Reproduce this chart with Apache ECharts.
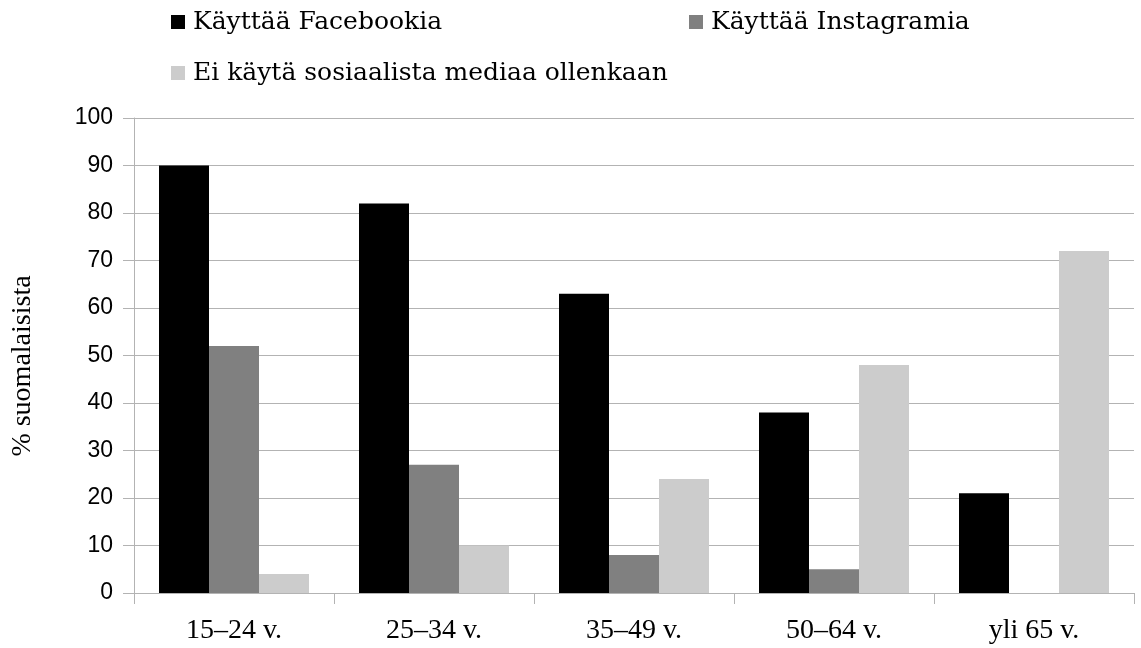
<!DOCTYPE html>
<html>
<head>
<meta charset="utf-8">
<script src="https://cdn.jsdelivr.net/npm/echarts@6/dist/echarts.min.js"></script>
<style>
  html, body { margin: 0; padding: 0; background: #fff; }
  #main { width: 1141px; height: 648px; }
</style>
</head>
<body>
<div id="main"></div>
<script>
var categories = ['15–24 v.', '25–34 v.', '35–49 v.', '50–64 v.', 'yli 65 v.'];
var seriesNames = ['Käyttää Facebookia', 'Käyttää Instagramia', 'Ei käytä sosiaalista mediaa ollenkaan'];
var facebook = [90, 82, 63, 38, 21];
var instagram = [52, 27, 8, 5, 0];
var eiKayta = [4, 10, 24, 48, 72];
var yTicks = [0, 10, 20, 30, 40, 50, 60, 70, 80, 90, 100];

var serif = '"Liberation Serif", "DejaVu Serif", serif';
var legendFont = '"DejaVu Serif", "Liberation Serif", serif';
var sans = '"Liberation Sans", Arial, sans-serif';
var lineColor = '#b3b3b3';

var myChart = echarts.init(document.getElementById('main'));

// one legend per item so they sit where the original put them
function legendAt(name, left, top) {
    return {
        data: [name],
        left: left,
        top: top,
        padding: 0,
        icon: 'rect',
        itemWidth: 14,
        itemHeight: 14,
        textStyle: { fontFamily: legendFont, fontSize: 25, lineHeight: 30, color: '#000', padding: [0, 0, 0, 3] }
    };
}

var option = {
    animation: false,
    color: ['#000000', '#808080', '#cccccc'],
    legend: [
        legendAt(seriesNames[0], 171, 7),
        legendAt(seriesNames[1], 689, 7),
        legendAt(seriesNames[2], 171, 58)
    ],
    grid: { left: 134, right: 7, top: 118, bottom: 55, containLabel: false },
    xAxis: {
        type: 'category',
        data: categories,
        axisLine: { lineStyle: { color: lineColor } },
        axisTick: { show: true, length: 11, lineStyle: { color: lineColor } },
        axisLabel: { fontFamily: serif, fontSize: 28, color: '#000', margin: 24 }
    },
    yAxis: {
        type: 'value',
        min: yTicks[0],
        max: yTicks[yTicks.length - 1],
        interval: 10,
        name: '% suomalaisista',
        nameLocation: 'middle',
        nameGap: 97,
        nameTextStyle: { fontFamily: serif, fontSize: 28, color: '#000', padding: [0, 21, 0, 0] },
        axisLine: { show: true, lineStyle: { color: lineColor } },
        axisTick: { show: true, length: 11, lineStyle: { color: lineColor } },
        splitLine: { lineStyle: { color: lineColor } },
        axisLabel: { fontFamily: sans, fontSize: 23, color: '#000', margin: 21 }
    },
    series: [
        { name: seriesNames[0], type: 'bar', data: facebook, barGap: '0%', barCategoryGap: '25%' },
        { name: seriesNames[1], type: 'bar', data: instagram, barGap: '0%', barCategoryGap: '25%' },
        { name: seriesNames[2], type: 'bar', data: eiKayta, barGap: '0%', barCategoryGap: '25%' }
    ]
};

myChart.setOption(option);
</script>
</body>
</html>
